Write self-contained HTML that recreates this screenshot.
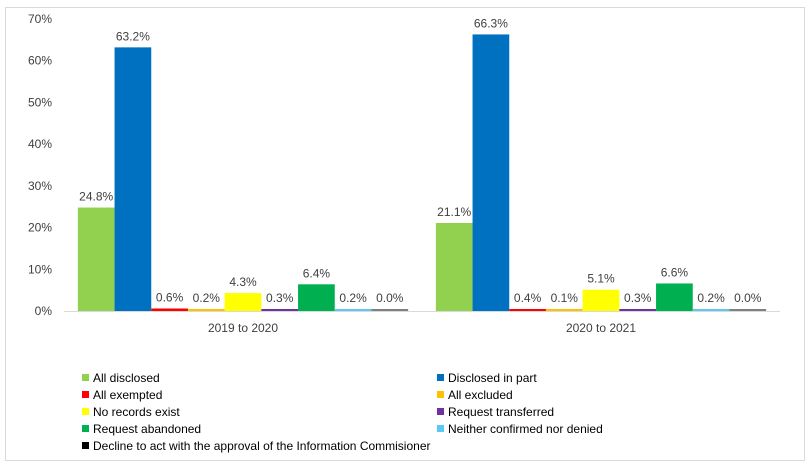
<!DOCTYPE html>
<html><head><meta charset="utf-8"><style>
body{margin:0;background:#fff;font-family:"Liberation Sans",sans-serif}
#wrap{position:absolute;left:5px;top:7px;width:800px;height:454px;border:1px solid #d9d9d9;box-sizing:border-box}
</style></head><body>
<div id="wrap"></div>
<svg id="c" width="811" height="468" style="position:absolute;left:0;top:0"></svg>
<script>
const categories=["2019 to 2020","2020 to 2021"];
const seriesNames=["All disclosed","Disclosed in part","All exempted","All excluded","No records exist","Request transferred","Request abandoned","Neither confirmed nor denied","Decline to act with the approval of the Information Commisioner"];
const colors=["#92d050","#0070c0","#ff0000","#ffc000","#ffff00","#7030a0","#00b050","#5bc8f5","#808080"];
const values2019=[24.8,63.2,0.6,0.2,4.3,0.3,6.4,0.2,0.0];
const values2020=[21.1,66.3,0.4,0.1,5.1,0.3,6.6,0.2,0.0];
const yTicks=[0,10,20,30,40,50,60,70];
const NS="http://www.w3.org/2000/svg";
const svg=document.getElementById('c');
const y0=311,yTop=19,xL=64,xR=780;
const y=v=>y0-(v/70)*(y0-yTop);
const catW=(xR-xL)/categories.length,barW=36.7,pad=(catW-barW*9)/2;
function mk(t,a,txt){const e=document.createElementNS(NS,t);for(const k in a)e.setAttribute(k,a[k]);if(txt!=null)e.textContent=txt;svg.appendChild(e);return e;}
yTicks.forEach(t=>{const e=mk('text',{x:52,y:y(t)+4,'text-anchor':'end','font-size':12,fill:'#404040'},t+'%');

});
const ax=mk('line',{x1:xL,x2:xR,y1:y0+0.5,y2:y0+0.5,stroke:'#d9d9d9','stroke-width':1});


[values2019,values2020].forEach((vals,ci)=>{
 const cx0=xL+ci*catW+pad;
 vals.forEach((v,i)=>{
  const x=cx0+i*barW,h=Math.max(y0-y(v),2);
  const r=mk('rect',{x:x,y:y0-h,width:barW,height:h,fill:colors[i]});
  
  
  const l=mk('text',{x:x+barW/2,y:y0-h-7,'text-anchor':'middle','font-size':12,fill:'#404040'},v.toFixed(1)+'%');
  
  
 });
 const c=mk('text',{x:xL+ci*catW+catW/2,y:332,'text-anchor':'middle','font-size':12,fill:'#404040'},categories[ci]);
 
 
});
seriesNames.forEach((n,i)=>{
 const col=i%2,row=Math.floor(i/2);
 const lx=col?437:82,ly=378+row*17;
 const s=mk('rect',{x:lx,y:ly-4,width:7,height:7,fill:i==8?'#000':colors[i]});
 
 
 const t=mk('text',{x:lx+11,y:ly+4,'font-size':12,fill:'#000'},n);
 
 
});
</script>
</body></html>
